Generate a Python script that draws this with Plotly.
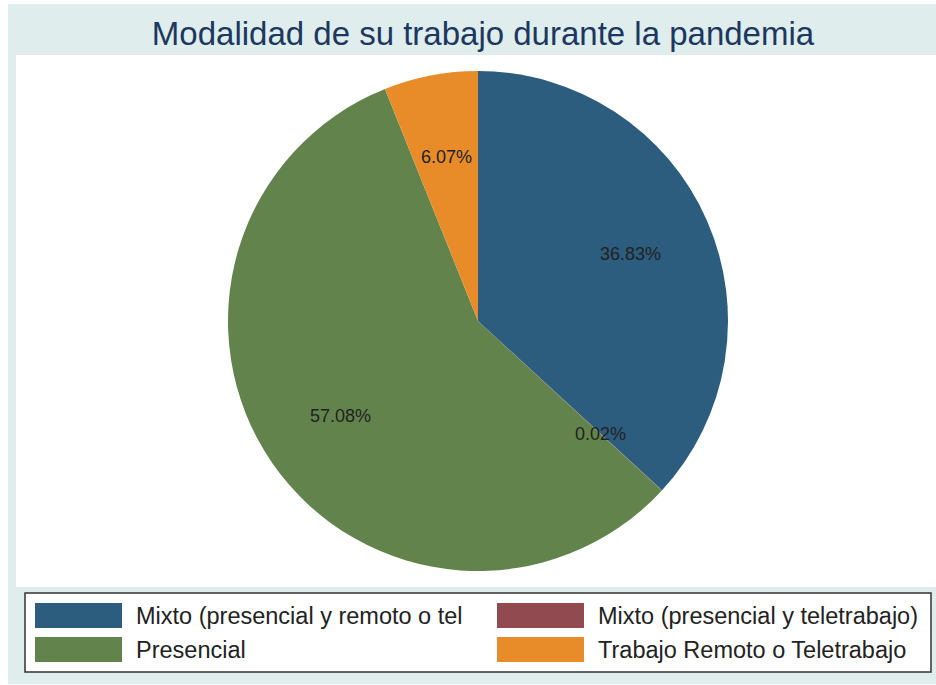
import math
import plotly.graph_objects as go

# data
labels = ["Mixto (presencial y remoto o tel", "Mixto (presencial y teletrabajo)",
          "Presencial", "Trabajo Remoto o Teletrabajo"]
values = [36.83, 0.02, 57.08, 6.07]
colors = ["#2C5C7E", "#924A51", "#63834D", "#E88C2A"]

W, H = 936, 685
BG = "#DFEDEC"
FONT = "Liberation Sans, Arial, sans-serif"

# pie placement in pixels (centre and radius)
cx, cy, rad = 478, 321, 250


def px_x(x):
    return x / W


def px_y(y):
    return 1 - y / H


fig = go.Figure(go.Pie(
    labels=labels, values=values, sort=False, direction="clockwise", rotation=0,
    marker=dict(colors=colors, line=dict(width=0)),
    textinfo="none", hoverinfo="label+percent", showlegend=False,
    domain=dict(x=[px_x(cx - rad), px_x(cx + rad)], y=[px_y(cy + rad), px_y(cy - rad)]),
))

# slice labels at 2/3 of the radius, like Stata does
total = sum(values)
start = 0.0
for v in values:
    mid = (start + v / 2) / total * 2 * math.pi
    start += v
    lx = cx + rad * 2 / 3 * math.sin(mid)
    ly = cy - rad * 2 / 3 * math.cos(mid)
    fig.add_annotation(x=px_x(lx), y=px_y(ly), xref="paper", yref="paper",
                       xanchor="center", yanchor="middle",
                       text=f"{v / total * 100:.2f}%", showarrow=False,
                       font=dict(family=FONT, size=18, color="#222222"))

shapes = [
    # graph region and plot region
    dict(type="rect", xref="paper", yref="paper", layer="below",
         x0=px_x(8), x1=px_x(936), y0=px_y(684), y1=px_y(4),
         fillcolor=BG, line=dict(width=0)),
    dict(type="rect", xref="paper", yref="paper", layer="below",
         x0=px_x(16), x1=px_x(936), y0=px_y(587), y1=px_y(55),
         fillcolor="white", line=dict(width=0)),
    # legend box
    dict(type="rect", xref="paper", yref="paper", layer="below",
         x0=px_x(25), x1=px_x(931), y0=px_y(672), y1=px_y(593),
         fillcolor="white", line=dict(color="#333333", width=1.5)),
]

# legend: two columns, two rows
col_x = [35, 497]
row_y = [603, 637]
for i, (lab, col) in enumerate(zip(labels, colors)):
    x0 = col_x[i % 2]
    y0 = row_y[i // 2]
    shapes.append(dict(type="rect", xref="paper", yref="paper",
                       x0=px_x(x0), x1=px_x(x0 + 87), y0=px_y(y0 + 25), y1=px_y(y0),
                       fillcolor=col, line=dict(width=0)))
    fig.add_annotation(x=px_x(x0 + 99), y=px_y(y0 + 13), xref="paper", yref="paper",
                       text=lab, showarrow=False, xanchor="left", yanchor="middle",
                       font=dict(family=FONT, size=23.5, color="#222222"))

fig.update_layout(
    width=W, height=H,
    margin=dict(l=0, r=0, t=0, b=0),
    paper_bgcolor="white",
    shapes=shapes,
    title=dict(text="Modalidad de su trabajo durante la pandemia",
               x=px_x(483), y=px_y(33), xanchor="center", yanchor="middle",
               font=dict(family=FONT, size=33, color="#1C3760")),
)

fig.write_html("out.html", config={"displayModeBar": False},
               post_script="document.body.style.margin='0';")
